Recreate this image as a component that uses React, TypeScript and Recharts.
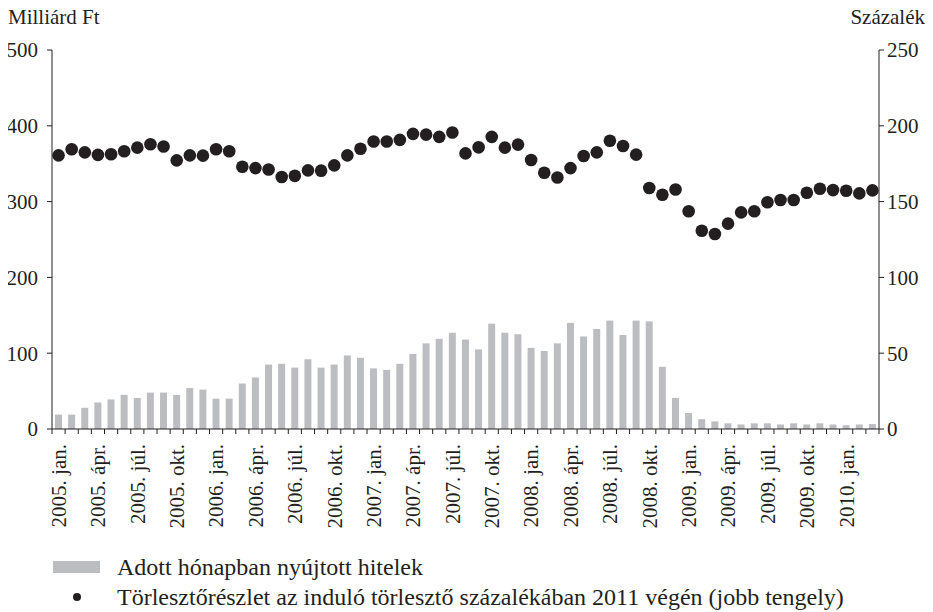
import { Bar, ComposedChart, Scatter, XAxis, YAxis } from 'recharts'

const years = [2005, 2006, 2007, 2008, 2009, 2010]
const monthNames = ['jan.', 'febr.', 'márc.', 'ápr.', 'máj.', 'jún.', 'júl.', 'aug.', 'szept.', 'okt.', 'nov.', 'dec.']
const monthCount = 63

// Adott hónapban nyújtott hitelek (milliárd Ft)
const loans = [
  19, 19, 28, 35, 39, 45, 41, 48, 48, 45, 54, 52,
  40, 40, 60, 68, 85, 86, 81, 92, 81, 85, 97, 94,
  80, 78, 86, 99, 113, 119, 127, 118, 105, 139, 127, 125,
  107, 103, 113, 140, 122, 132, 143, 124, 143, 142, 82, 41,
  21, 13, 10, 7.5, 6, 7.5, 7.5, 6, 7.5, 6, 7.5, 6,
  5, 6, 6.5,
]

// Törlesztőrészlet az induló törlesztő százalékában 2011 végén (%)
const installment = [
  180.5, 184.5, 182.5, 180.8, 181.2, 183.2, 185.6, 187.8, 186.3, 177.2, 180.5, 180.3,
  184.5, 183.2, 173, 172.1, 171.2, 166.2, 167, 170.6, 170.4, 173.9, 180.5, 184.9,
  189.6, 189.6, 190.7, 194.7, 194.2, 192.7, 195.6, 181.8, 185.8, 192.7, 185.6, 187.6,
  177.4, 169, 165.9, 172.1, 180.1, 182.5, 190.1, 186.7, 181, 159, 154.5, 158,
  143.6, 130.8, 128.6, 135.5, 142.9, 143.6, 149.6, 151.1, 151.1, 155.8, 158.5, 157.6,
  157.2, 155.4, 157.4,
]

const leftTicks = [0, 100, 200, 300, 400, 500]
const rightTicks = [0, 50, 100, 150, 200, 250]

const categories = Array.from({ length: monthCount }, (_, i) =>
  `${years[Math.floor(i / 12)]}. ${monthNames[i % 12]}`
)

const data = categories.map((label, i) => ({ label, loans: loans[i], installment: installment[i] }))

const ink = '#231f20'
const font = '"Liberation Serif", "DejaVu Serif", serif'

function MonthTick(props: any) {
  const { x, y, payload, index } = props
  const half = payload?.offset ?? 0
  const axisY = y - 5
  return (
    <g>
      <line x1={x - half} x2={x - half} y1={axisY} y2={axisY + 5} stroke={ink} />
      {index === monthCount - 1 && (
        <line x1={x + half} x2={x + half} y1={axisY} y2={axisY + 5} stroke={ink} />
      )}
      {index % 3 === 0 && (
        <text
          transform={`translate(${x},${y + 10}) rotate(-90)`}
          textAnchor="end"
          dy="0.35em"
          fill={ink}
          fontSize={21}
          fontFamily={font}
        >
          {payload.value}
        </text>
      )}
    </g>
  )
}

function Dot(props: any) {
  const { cx, cy } = props
  return <circle cx={cx} cy={cy} r={6.3} fill={ink} />
}

const titleStyle = { position: 'absolute', top: -3, fontSize: 21, lineHeight: '24px', whiteSpace: 'nowrap', zIndex: 2 } as const

export default function App() {
  return (
    <div style={{ position: 'relative', width: 925, height: 604, fontFamily: font, color: ink }}>
      <ComposedChart width={925} height={540} data={data} margin={{ top: 42, right: 0, bottom: 0, left: 0 }}>
        <XAxis
          dataKey="label"
          interval={0}
          tickLine={false}
          tickSize={5}
          tickMargin={0}
          height={119}
          tick={<MonthTick />}
          axisLine={{ stroke: ink }}
        />
        <YAxis
          yAxisId="left"
          domain={[0, 500]}
          ticks={leftTicks}
          width={44}
          tickSize={5}
          tickMargin={9}
          axisLine={{ stroke: ink }}
          tickLine={{ stroke: ink }}
          tick={{ fill: ink, fontSize: 21, fontFamily: font }}
        />
        <YAxis
          yAxisId="right"
          orientation="right"
          domain={[0, 250]}
          ticks={rightTicks}
          width={54}
          tickSize={5}
          tickMargin={3}
          axisLine={{ stroke: ink }}
          tickLine={{ stroke: ink }}
          tick={{ fill: ink, fontSize: 21, fontFamily: font }}
        />
        <Bar yAxisId="left" dataKey="loans" fill="#bcbdc0" barSize={7} isAnimationActive={false} />
        <Scatter yAxisId="right" dataKey="installment" shape={<Dot />} isAnimationActive={false} />
      </ComposedChart>
      <div style={{ ...titleStyle, left: 0 }}>Milliárd Ft</div>
      <div style={{ ...titleStyle, right: 8 }}>Százalék</div>
      <div style={{ position: 'absolute', left: 45, top: 547, fontSize: 24, lineHeight: '24px', whiteSpace: 'nowrap' }}>
        <div style={{ display: 'flex', alignItems: 'center', height: 24 }}>
          <span style={{ display: 'inline-block', width: 47, height: 12, background: '#bcbdc0' }} />
          <span style={{ marginLeft: 17 }}>Adott hónapban nyújtott hitelek</span>
        </div>
        <div style={{ display: 'flex', alignItems: 'center', height: 24, marginTop: 6 }}>
          <span style={{ display: 'inline-block', width: 47, textAlign: 'center', lineHeight: 0 }}>
            <span style={{ display: 'inline-block', width: 8, height: 8, borderRadius: 4, background: ink }} />
          </span>
          <span style={{ marginLeft: 17 }}>Törlesztőrészlet az induló törlesztő százalékában 2011 végén (jobb tengely)</span>
        </div>
      </div>
    </div>
  )
}
